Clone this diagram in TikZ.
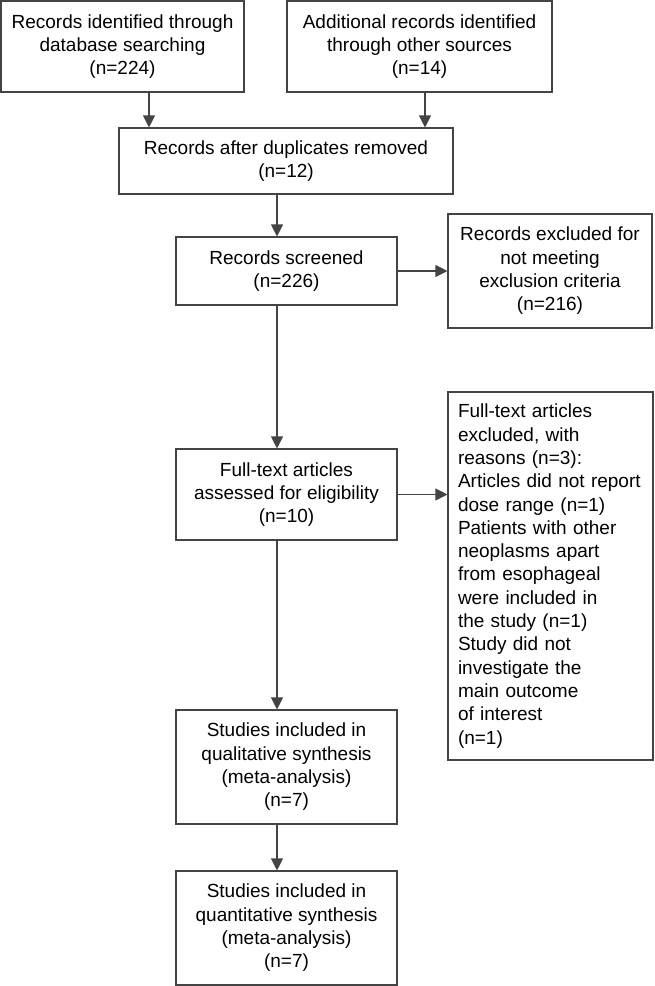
\documentclass[tikz,border=0pt]{standalone}
\usepackage{fontspec}
\setmainfont{Liberation Sans}
\usetikzlibrary{arrows.meta}
\definecolor{linegray}{HTML}{444444}
\tikzset{
  box/.style={draw=linegray, line width=1.1pt, align=center, inner sep=2pt,
    font=\fontsize{19pt}{23.3pt}\selectfont, text=black},
  arr/.style={draw=linegray, line width=1.1pt, -{Triangle[width=12pt,length=12pt]}},
}
\begin{document}
\begin{tikzpicture}[x=1pt,y=-1pt]
\useasboundingbox (0,0) rectangle (654,986);
\node[box, minimum width=243pt, minimum height=91pt] (b1) at (122.5,46.5)
  {Records identified through\\database searching\\(n=224)};
\node[box, minimum width=265pt, minimum height=91pt] (b2) at (419.5,46.5)
  {Additional records identified\\through other sources\\(n=14)};
\node[box, minimum width=334pt, minimum height=66pt] (b3) at (286,161)
  {Records after duplicates removed\\(n=12)};
\node[box, minimum width=221pt, minimum height=68pt] (b4) at (286.5,271)
  {Records screened\\(n=226)};
\node[box, minimum width=204pt, minimum height=114pt] (b5) at (550,271)
  {Records excluded for\\not meeting\\exclusion criteria\\(n=216)};
\node[box, minimum width=221pt, minimum height=91pt] (b6) at (286.5,494.5)
  {Full-text articles\\assessed for eligibility\\(n=10)};
\node[box, minimum width=205pt, minimum height=368pt, align=left, text width=185pt, inner xsep=10pt] (b7) at (550.5,576)
  {Full-text articles\\excluded, with\\reasons (n=3):\\Articles did not report\\dose range (n=1)\\Patients with other\\neoplasms apart\\from esophageal\\were included in\\the study (n=1)\\Study did not\\investigate the\\main outcome\\of interest\\(n=1)};
\node[box, minimum width=221pt, minimum height=114pt] (b8) at (286.5,767)
  {Studies included in\\qualitative synthesis\\(meta-analysis)\\(n=7)};
\node[box, minimum width=221pt, minimum height=114pt] (b9) at (286.5,928)
  {Studies included in\\quantitative synthesis\\(meta-analysis)\\(n=7)};
\coordinate (c1) at (149,0);
\coordinate (c2) at (425,0);
\coordinate (c3) at (277,0);
\draw[arr] (b1.south -| c1) -- (b3.north -| c1);
\draw[arr] (b2.south -| c2) -- (b3.north -| c2);
\draw[arr] (b3.south -| c3) -- (b4.north -| c3);
\draw[arr] (b4.east) -- (b5.west);
\draw[arr] (b4.south -| c3) -- (b6.north -| c3);
\draw[arr] (b6.east) -- (b6.east -| b7.west);
\draw[arr] (b6.south -| c3) -- (b8.north -| c3);
\draw[arr] (b8.south -| c3) -- (b9.north -| c3);
\end{tikzpicture}
\end{document}
